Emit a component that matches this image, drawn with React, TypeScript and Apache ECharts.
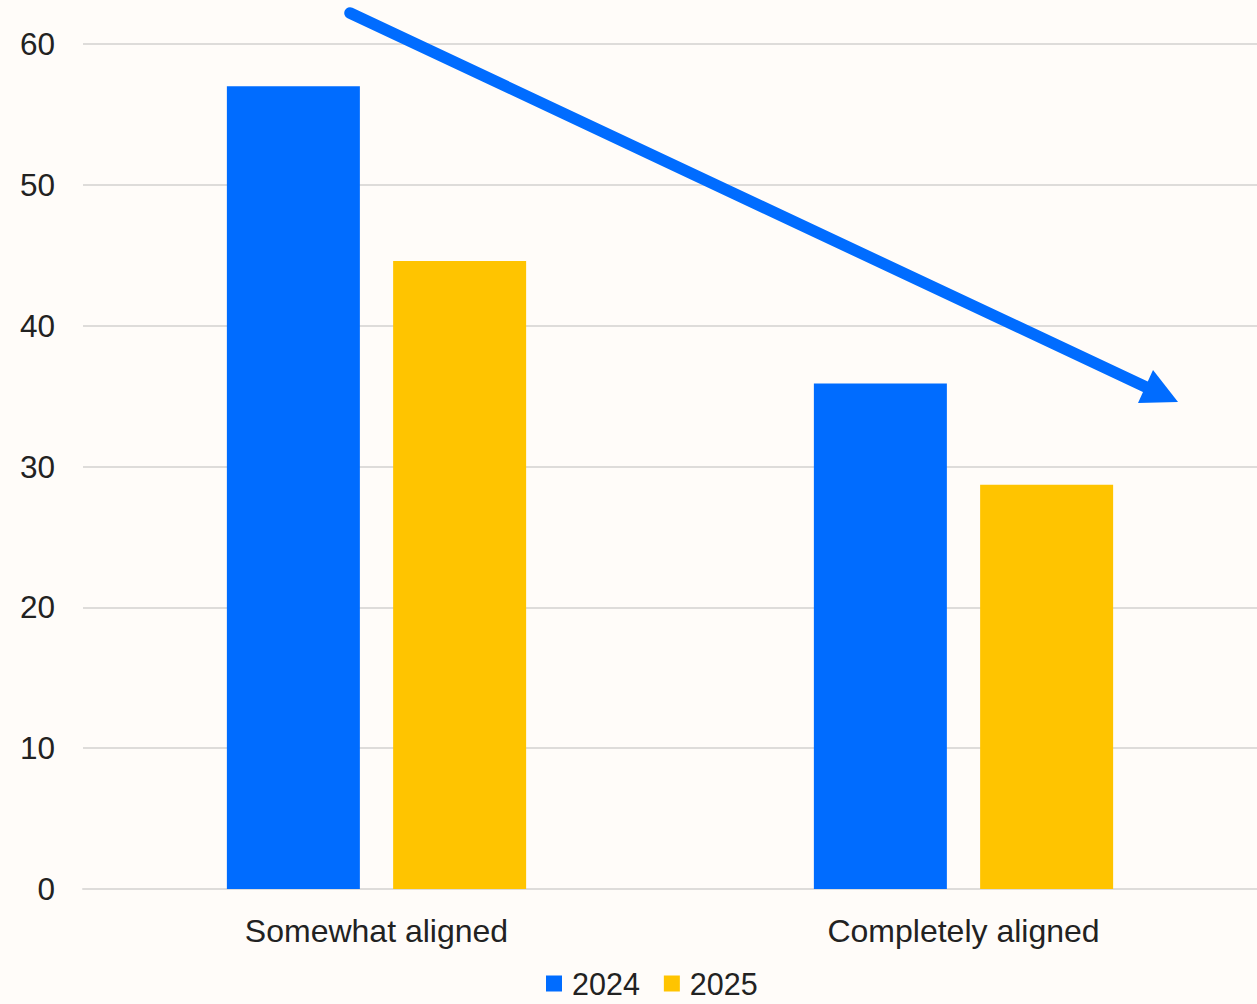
import React, { useEffect, useRef } from "react";
import * as echarts from "echarts";

const categories = ["Somewhat aligned", "Completely aligned"];
const seriesNames = ["2024", "2025"];
const values2024 = [57, 35.9];
const values2025 = [44.6, 28.7];
const yTicks = { min: 0, max: 60, interval: 10 };

const BLUE = "#006cff";
const YELLOW = "#ffc400";
const TEXT = "#222222";
const GRID = "#dedcda";
const FONT = "'Liberation Sans', Arial, sans-serif";

export default function App() {
  const ref = useRef<HTMLDivElement>(null);
  useEffect(() => {
    if (!ref.current) return;
    const chart = echarts.init(ref.current, null, { renderer: "svg" });
    chart.setOption({
      animation: false,
      backgroundColor: "#fffcf9",
      textStyle: { fontFamily: FONT },
      grid: { left: 83, right: 0, top: 44, bottom: 115, containLabel: false },
      legend: {
        top: 968,
        left: 546,
        padding: 0,
        itemWidth: 16,
        itemHeight: 16,
        itemGap: 24,
        icon: "rect",
        textStyle: {
          fontSize: 30.5,
          lineHeight: 30,
          color: TEXT,
          fontFamily: FONT,
          padding: [0, 0, 0, 5],
        },
        data: seriesNames,
      },
      xAxis: {
        type: "category",
        data: categories,
        axisLine: { lineStyle: { color: GRID, width: 2 } },
        axisTick: { show: false },
        axisLabel: { fontSize: 32, color: TEXT, margin: 26, fontFamily: FONT },
      },
      yAxis: {
        type: "value",
        min: yTicks.min,
        max: yTicks.max,
        interval: yTicks.interval,
        axisLine: { show: false },
        axisTick: { show: false },
        splitLine: { lineStyle: { color: GRID, width: 2 } },
        axisLabel: { fontSize: 31.5, color: TEXT, margin: 28, fontFamily: FONT },
      },
      series: [
        {
          name: seriesNames[0],
          type: "bar",
          data: values2024,
          barWidth: 133,
          barGap: "25%",
          itemStyle: { color: BLUE },
        },
        {
          name: seriesNames[1],
          type: "bar",
          data: values2025,
          barWidth: 133,
          itemStyle: { color: YELLOW },
        },
      ],
      graphic: [
        {
          type: "line",
          shape: { x1: 350, y1: 13, x2: 1148, y2: 388 },
          style: { stroke: BLUE, lineWidth: 11.5, lineCap: "round" },
          z: 100,
        },
        {
          type: "polygon",
          shape: { points: [[1178, 402], [1138, 403], [1153, 370]] },
          style: { fill: BLUE },
          z: 100,
        },
      ],
    });
    return () => chart.dispose();
  }, []);
  return (
    <div
      ref={ref}
      style={{ position: "absolute", left: 0, top: 0, width: 1257, height: 1004 }}
    />
  );
}
